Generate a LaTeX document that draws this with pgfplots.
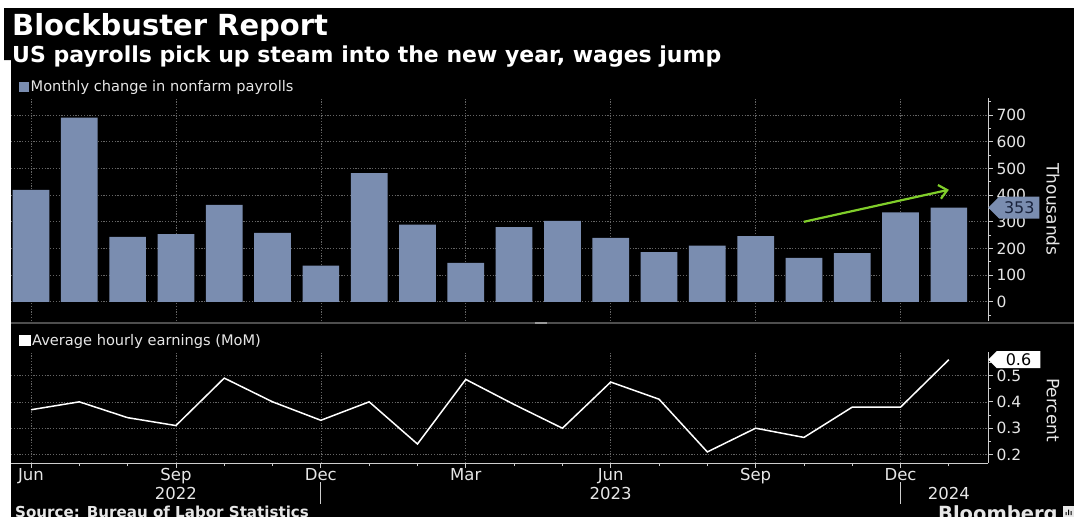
\documentclass[border=0pt]{standalone}
\usepackage{pgfplots}
\usepackage{pgfplotstable}
\pgfplotsset{compat=1.18}
\usepackage{fontspec}
\setmainfont{DejaVu Sans}
\usetikzlibrary{arrows.meta,shapes.symbols}
\definecolor{barblue}{RGB}{122,141,176}
\definecolor{gridc}{RGB}{100,100,100}
\definecolor{axisc}{RGB}{205,205,205}
\definecolor{labc}{RGB}{230,230,230}
\definecolor{sepc}{RGB}{78,78,78}
\definecolor{labdark}{RGB}{25,35,60}
\definecolor{arrowgreen}{RGB}{128,206,42}
\newcommand{\fs}[1]{\fontsize{#1bp}{#1bp}\selectfont}

\pgfplotstableread{
x pay ahe
0 420 0.37
1 690 0.40
2 243 0.34
3 254 0.31
4 363 0.49
5 258 0.40
6 136 0.33
7 482 0.40
8 289 0.24
9 146 0.485
10 280 0.39
11 303 0.30
12 240 0.475
13 186 0.41
14 211 0.21
15 246 0.30
16 165 0.265
17 182 0.38
18 335 0.38
19 353 0.56
}\datatable

\pgfplotsset{
  bb/.style={
    scale only axis, width=977bp,
    xmin=-0.414, xmax=19.81,
    tick align=outside,
    major tick length=5bp, minor tick length=3bp,
    tick style={axisc, line width=0.8bp},
    axis line style={axisc, line width=0.9bp},
    xmajorgrids, ymajorgrids,
    major grid style={gridc, line width=0.6bp, dash pattern=on 1.2bp off 1.6bp},
    xtick={0,3,...,18},
    /pgf/number format/assume math mode=true,
    yticklabel style={font=\fs{15.5}, text=labc},
    ylabel style={font=\fs{17}, text=labc, rotate=180, anchor=center},
    legend style={draw=none, fill=none, text=labc, font=\fs{14.6},
      at={(axis description cs:0,1)}, anchor=south west, inner sep=0pt,
      nodes={inner sep=1.5bp}},
  }
}

\begin{document}
\begin{tikzpicture}
\useasboundingbox (0,0) rectangle (1074bp,-517bp);
\clip (0,0) rectangle (1074bp,-517bp);
\fill[white] (0,0) rectangle (1074bp,-517bp);
\begin{scope}[x=1bp, y=-1bp]
\fill[black] (4,8) -- (1074,8) -- (1074,517) -- (11,517) -- (11,60) -- (4,60) -- cycle;
\node[anchor=base west, font=\bfseries\fs{29}, text=white, inner sep=0pt] at (12,35) {Blockbuster Report};
\node[anchor=base west, font=\bfseries\fs{22}, text=white, inner sep=0pt] at (12,62) {US payrolls pick up steam into the new year, wages jump};
\draw[sepc, line width=2.5bp] (11,323) -- (1074,323);
\draw[black!40!white, line width=2.5bp] (535,323) -- (547,323);
\end{scope}

\begin{axis}[bb, at={(11bp,-98bp)}, anchor=north west, height=223bp,
  ymin=-72, ymax=764,
  axis y line*=right, axis x line*=bottom,
  x axis line style={draw=none}, xtick style={draw=none}, xticklabels={},
  ytick={0,100,...,700}, minor ytick={-50,50,150,...,750},
  ylabel={Thousands}, ylabel style={at={(axis description cs:1.0665,0.5)}},
  legend style={xshift=8bp, yshift=3.5bp},
]
\addplot[ybar, bar width=0.76, fill=barblue, draw=none,
  legend image code/.code={\fill[barblue] (0bp,-5bp) rectangle (10bp,5bp);}]
  table[x=x,y=pay]{\datatable};
\addlegendentry{Monthly change in nonfarm payrolls}
\draw[arrowgreen, line width=2.2bp, -{Straight Barb[length=8bp,width=14bp]}] (axis cs:16,300) -- (axis cs:19,420);
\coordinate (lab1) at (axis cs:19.81,353);
\end{axis}

\begin{axis}[bb, at={(11bp,-352bp)}, anchor=north west, height=111bp,
  ymin=0.168, ymax=0.589,
  axis y line*=right, axis x line*=bottom,
  ytick={0.2,0.3,0.4,0.5}, minor ytick={0.25,0.35,0.45,0.55},
  minor xtick={0,...,19},
  xticklabels={Jun,Sep,Dec,Mar,Jun,Sep,Dec},
  xticklabel style={font=\fs{16.5}, text=labc, yshift=3bp},
  yticklabel style={/pgf/number format/.cd, fixed, fixed zerofill, precision=1},
  ylabel={Percent}, ylabel style={at={(axis description cs:1.0665,0.477)}},
  legend style={xshift=8bp, yshift=3.5bp},
]
\addplot[white, line width=1.5bp, no marks,
  legend image code/.code={\fill[white] (0bp,-5bp) rectangle (10bp,5bp);}]
  table[x=x,y=ahe]{\datatable};
\addlegendentry{Average hourly earnings (MoM)}
\coordinate (lab2) at (axis cs:19.81,0.56);
\coordinate (y22) at (axis cs:3,0.168);
\coordinate (y23) at (axis cs:12,0.168);
\coordinate (y24) at (axis cs:19,0.168);
\coordinate (s1) at (axis cs:6,0.168);
\coordinate (s2) at (axis cs:18,0.168);
\end{axis}

\node[signal, signal to=west, fill=barblue, text=labdark, font=\fs{16}, minimum height=22bp, minimum width=51bp, inner sep=1bp, anchor=west] at (lab1) {353};
\node[signal, signal to=west, fill=white, text=black, font=\fs{16}, minimum height=17bp, minimum width=52bp, inner sep=0.5bp, anchor=west] at (lab2) {0.6};

\node[font=\fs{16.5}, text=labc] at ([yshift=-30bp]y22) {2022};
\node[font=\fs{16.5}, text=labc] at ([yshift=-30bp]y23) {2023};
\node[font=\fs{16.5}, text=labc] at ([yshift=-30bp]y24) {2024};
\draw[axisc, line width=0.8bp] ([yshift=-19bp]s1) -- ++(0,-22bp);
\draw[axisc, line width=0.8bp] ([yshift=-19bp]s2) -- ++(0,-22bp);

\begin{scope}[x=1bp, y=-1bp]
\node[anchor=base west, font=\bfseries\fs{15.1}, text=labc, inner sep=0pt] at (15,517) {Source: Bureau of Labor Statistics};
\node[anchor=base west, font=\bfseries\fs{19.5}, text=labc, inner sep=0pt] at (938,520) {Bloomberg};
\fill[labc] (1063,506) rectangle (1074,517);
\fill[black] (1065.5,515) rectangle (1066.5,512) (1068,515) rectangle (1069,509.5) (1070.5,515) rectangle (1071.5,511);
\end{scope}
\end{tikzpicture}
\end{document}
